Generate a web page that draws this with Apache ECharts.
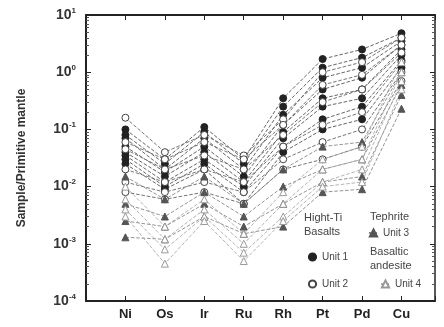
<!DOCTYPE html>
<html>
<head>
<meta charset="utf-8">
<script src="https://cdn.jsdelivr.net/npm/echarts@6/dist/echarts.min.js"></script>
<style>
  html, body { margin: 0; padding: 0; background: #fff; }
  #main { width: 444px; height: 327px; }
</style>
</head>
<body>
<div id="main"></div>
<script>
var elements = ['Ni', 'Os', 'Ir', 'Ru', 'Rh', 'Pt', 'Pd', 'Cu'];
var yTicks = ['10{s|-4}', '10{s|-3}', '10{s|-2}', '10{s|-1}', '10{s|0}', '10{s|1}'];

// one row per sample, values in element order
var unit1 = [
  [0.10, 0.030, 0.11, 0.030, 0.35, 1.7, 2.5, 4.8],
  [0.08, 0.025, 0.09, 0.025, 0.25, 1.2, 1.8, 4.0],
  [0.07, 0.020, 0.07, 0.020, 0.18, 0.8, 1.2, 3.5],
  [0.05, 0.018, 0.05, 0.015, 0.12, 0.5, 0.8, 3.0],
  [0.04, 0.015, 0.04, 0.012, 0.09, 0.35, 0.5, 2.5],
  [0.035, 0.012, 0.03, 0.010, 0.07, 0.25, 0.35, 2.0],
  [0.03, 0.010, 0.025, 0.008, 0.05, 0.15, 0.25, 1.6],
  [0.025, 0.009, 0.02, 0.005, 0.04, 0.10, 0.15, 1.2]
];
var unit2 = [
  [0.16, 0.040, 0.08, 0.035, 0.15, 1.0, 1.5, 4.0],
  [0.06, 0.030, 0.06, 0.030, 0.12, 0.6, 0.9, 3.0],
  [0.045, 0.020, 0.035, 0.020, 0.08, 0.3, 0.5, 2.2],
  [0.02, 0.012, 0.02, 0.012, 0.05, 0.12, 0.2, 1.5],
  [0.012, 0.008, 0.012, 0.008, 0.03, 0.06, 0.1, 1.0],
  [0.008, 0.006, 0.008, 0.005, 0.02, 0.03, 0.05, 0.7]
];
var unit3 = [
  [0.015, 0.006, 0.015, 0.005, 0.02, 0.05, 0.06, 1.0],
  [0.005, 0.003, 0.008, 0.003, 0.01, 0.02, 0.03, 0.6],
  [0.0025, 0.002, 0.005, 0.002, 0.005, 0.012, 0.015, 0.4],
  [0.0013, 0.0012, 0.003, 0.0015, 0.002, 0.008, 0.009, 0.23]
];
var unit4 = [
  [0.010, 0.002, 0.006, 0.0015, 0.008, 0.03, 0.05, 1.5],
  [0.006, 0.0012, 0.004, 0.001, 0.005, 0.02, 0.03, 1.0],
  [0.004, 0.0008, 0.003, 0.0007, 0.003, 0.012, 0.02, 0.7],
  [0.003, 0.00045, 0.0025, 0.0005, 0.0025, 0.01, 0.012, 0.5]
];

var chart = echarts.init(document.getElementById('main'));

var units = [
  { name: 'Unit 1', rows: unit1, symbol: 'circle', fill: '#222', border: '#222', line: '#555' },
  { name: 'Unit 2', rows: unit2, symbol: 'circle', fill: '#fff', border: '#444', line: '#666' },
  { name: 'Unit 3', rows: unit3, symbol: 'triangle', fill: '#555', border: '#555', line: '#888' },
  { name: 'Unit 4', rows: unit4, symbol: 'triangle', fill: '#fff', border: '#999', line: '#aaa' }
];

var series = [];
units.forEach(function (u) {
  u.rows.forEach(function (row) {
    series.push({
      name: u.name,
      type: 'line',
      data: row.map(function (v, i) { return [i, v]; }),
      symbol: u.symbol,
      symbolSize: 7,
      lineStyle: { color: u.line, width: 0.9, type: 'dashed' },
      itemStyle: { color: u.fill, borderColor: u.border, borderWidth: 1 },
      emphasis: { disabled: true },
      animation: false,
      z: 2
    });
  });
});

var legendText = { fontFamily: 'Liberation Sans', fontSize: 10, color: '#444' };
function legendAt(name, left, top) {
  return {
    data: [name],
    left: left,
    top: top,
    itemWidth: 9,
    itemHeight: 9,
    itemGap: 4,
    padding: 0,
    textStyle: legendText,
    selectedMode: false
  };
}

var tickStyle = { color: '#222', width: 1 };

var option = {
  backgroundColor: '#fff',
  animation: false,
  grid: { left: 86, right: 9, top: 15, bottom: 26 },
  legend: [
    legendAt('Unit 1', 307, 252),
    legendAt('Unit 2', 307, 279),
    legendAt('Unit 3', 368, 228),
    legendAt('Unit 4', 380, 279)
  ],
  graphic: [
    { type: 'text', left: 304, top: 211, style: { text: 'Hight-Ti\nBasalts', fontFamily: 'Liberation Sans', fontSize: 11, lineHeight: 14, fill: '#444' } },
    { type: 'text', left: 370, top: 211, style: { text: 'Tephrite', fontFamily: 'Liberation Sans', fontSize: 11, fill: '#444' } },
    { type: 'text', left: 370, top: 245, style: { text: 'Basaltic\nandesite', fontFamily: 'Liberation Sans', fontSize: 11, lineHeight: 14, fill: '#444' } }
  ],
  xAxis: [{
    type: 'value',
    min: -1,
    max: 7.85,
    interval: 1,
    splitLine: { show: false },
    axisLine: { show: true, onZero: false, lineStyle: { color: '#222', width: 2 } },
    axisTick: { show: true, inside: true, length: 5, lineStyle: tickStyle },
    axisLabel: {
      margin: 7,
      fontFamily: 'Liberation Sans',
      fontSize: 13,
      fontWeight: 'bold',
      color: '#222',
      formatter: function (v) { return elements[v] || ''; }
    }
  }, {
    type: 'value',
    position: 'top',
    min: -1,
    max: 7.85,
    interval: 1,
    splitLine: { show: false },
    axisLine: { show: true, onZero: false, lineStyle: { color: '#222', width: 2 } },
    axisTick: { show: true, inside: true, length: 5, lineStyle: tickStyle },
    axisLabel: { show: false }
  }],
  yAxis: [{
    type: 'log',
    logBase: 10,
    min: 0.0001,
    max: 10,
    name: 'Sample/Primitive mantle',
    nameLocation: 'middle',
    nameGap: 58,
    nameTextStyle: { fontFamily: 'Liberation Sans', fontSize: 12, fontWeight: 'bold', color: '#333' },
    splitLine: { show: false },
    axisLine: { show: true, onZero: false, lineStyle: { color: '#222', width: 2 } },
    axisTick: { show: true, inside: true, length: 5, lineStyle: tickStyle },
    minorTick: { show: true, splitNumber: 9, length: 3, lineStyle: { color: '#555' } },
    axisLabel: {
      margin: 10,
      formatter: function (v) {
        var p = Math.round(Math.log10(v));
        return yTicks[p + 4] || '';
      },
      fontFamily: 'Liberation Sans',
      fontSize: 14,
      fontWeight: 'bold',
      color: '#333',
      rich: {
        s: { fontSize: 8, fontWeight: 'bold', color: '#333', verticalAlign: 'top', padding: [0, 0, 9, 0] }
      }
    }
  }, {
    type: 'log',
    logBase: 10,
    min: 0.0001,
    max: 10,
    position: 'right',
    splitLine: { show: false },
    axisLine: { show: true, onZero: false, lineStyle: { color: '#222', width: 1.5 } },
    axisTick: { show: true, inside: true, length: 5, lineStyle: tickStyle },
    minorTick: { show: true, splitNumber: 9, length: 3, lineStyle: { color: '#555' } },
    axisLabel: { show: false }
  }],
  series: series
};

chart.setOption(option);
</script>
</body>
</html>
